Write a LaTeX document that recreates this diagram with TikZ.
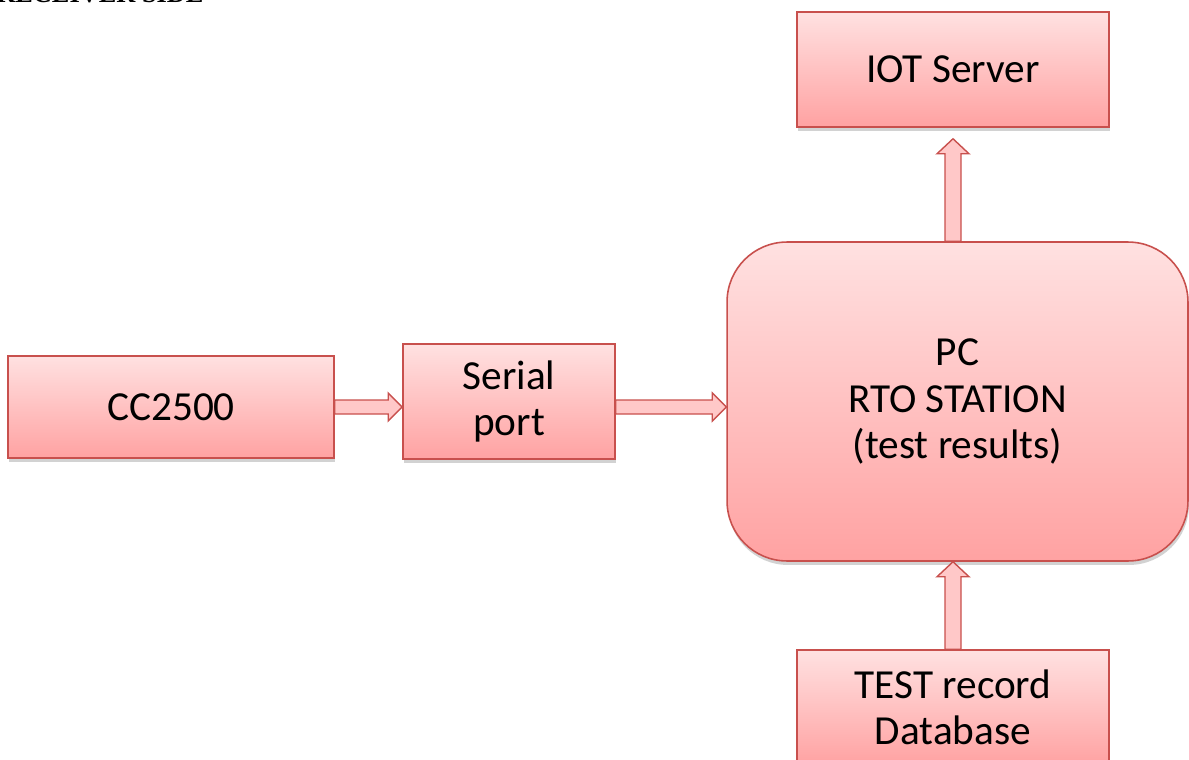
\documentclass[tikz,border=0pt]{standalone}
\usepackage{fontspec}
\setmainfont{Carlito}
\newfontfamily\headfont{Liberation Serif}
\usetikzlibrary{calc,shadows}
\definecolor{boxtop}{HTML}{FFE1E1}
\definecolor{boxbot}{HTML}{FFA2A2}
\definecolor{boxline}{HTML}{C8504D}
\tikzset{
  blk/.style={draw=boxline, line width=0.9pt, top color=boxtop, bottom color=boxbot,
    align=center, inner sep=0pt, font=\fontsize{23.5}{26.3}\selectfont,
    drop shadow={opacity=0.35, shadow xshift=0.02cm, shadow yshift=-0.08cm}},
  barrow/.style={draw=boxline, line width=0.8pt, fill=boxtop!60!boxbot, line join=miter},
}
\begin{document}
\begin{tikzpicture}[x=0.02cm,y=-0.02cm]
\clip (0,0) rectangle (1189,760);
\fill[white] (0,0) rectangle (1189,760);
% partially visible heading
\node[anchor=base west, inner sep=0pt, font=\headfont\bfseries\fontsize{15}{17}\selectfont] (head) at (-4,2.5) {RECEIVER SIDE};
% boxes
\node[blk, minimum width=6.52cm, minimum height=2.04cm] (cc) at (171,407) {CC2500};
\node[blk, minimum width=4.24cm, minimum height=2.3cm] (sp) at (509,401.5) {Serial\\port};
\node[blk, rounded corners=1.2cm, minimum width=9.22cm, minimum height=6.38cm] (pc) at (957.5,401.5) {PC\\RTO STATION\\(test results)};
\node[blk, minimum width=6.24cm, minimum height=2.3cm] (iot) at (953,69.5) {IOT Server};
\node[blk, minimum width=6.24cm, minimum height=2.3cm, text depth=0pt] (db) at (953,707.5) {TEST record\\Database};
% horizontal block arrows
\coordinate (a1s) at (cc.east);
\coordinate (a1e) at (cc.east -| sp.west);
\draw[barrow] ($(a1s)+(0,-7)$) -- ($(a1e)+(-14,-7)$) -- ($(a1e)+(-14,-14)$) -- (a1e)
  -- ($(a1e)+(-14,14)$) -- ($(a1e)+(-14,7)$) -- ($(a1s)+(0,7)$) -- cycle;
\coordinate (a2s) at (cc.east -| sp.east);
\coordinate (a2e) at (cc.east -| pc.west);
\draw[barrow] ($(a2s)+(0,-7)$) -- ($(a2e)+(-14,-7)$) -- ($(a2e)+(-14,-14)$) -- (a2e)
  -- ($(a2e)+(-14,14)$) -- ($(a2e)+(-14,7)$) -- ($(a2s)+(0,7)$) -- cycle;
% vertical block arrows
\coordinate (a3s) at (iot.south |- pc.north);
\coordinate (a3e) at ($(iot.south)+(0,11)$);
\draw[barrow] ($(a3s)+(-8,0)$) -- ($(a3e)+(-8,15)$) -- ($(a3e)+(-16,15)$) -- (a3e)
  -- ($(a3e)+(16,15)$) -- ($(a3e)+(8,15)$) -- ($(a3s)+(8,0)$) -- cycle;
\coordinate (a4s) at (db.north);
\coordinate (a4e) at (iot.south |- pc.south);
\draw[barrow] ($(a4s)+(-8,0)$) -- ($(a4e)+(-8,15)$) -- ($(a4e)+(-16,15)$) -- (a4e)
  -- ($(a4e)+(16,15)$) -- ($(a4e)+(8,15)$) -- ($(a4s)+(8,0)$) -- cycle;
\end{tikzpicture}
\end{document}
